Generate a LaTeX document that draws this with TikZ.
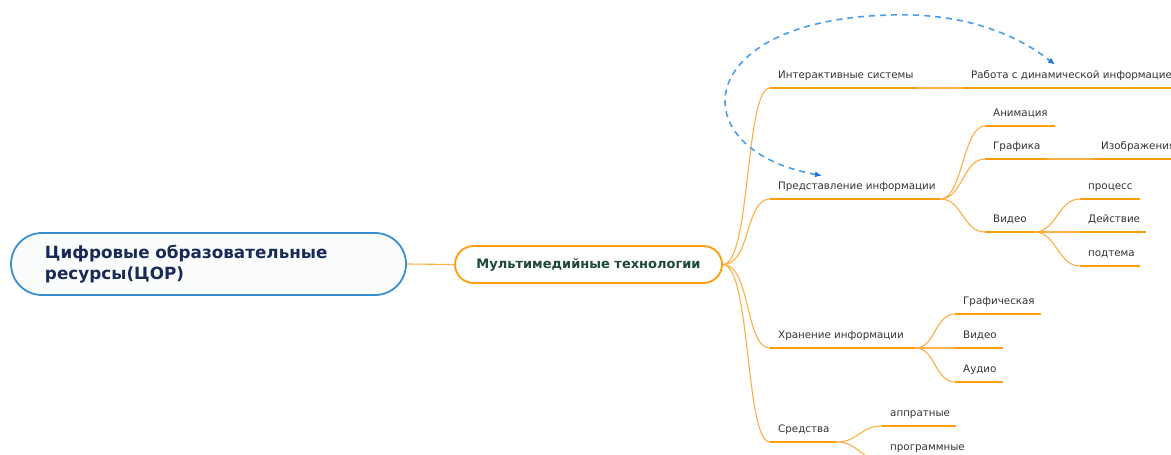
\documentclass[tikz,border=0pt]{standalone}
\usepackage{fontspec}
\setmainfont{DejaVu Sans}
\usetikzlibrary{arrows.meta}
\definecolor{rootblue}{HTML}{3A8FD3}
\definecolor{rootfill}{HTML}{FBFDFD}
\definecolor{roottext}{HTML}{1A2A58}
\definecolor{mainorange}{HTML}{FF9C0A}
\definecolor{maintext}{HTML}{1E4A3A}
\definecolor{linkorange}{HTML}{FDAE45}
\definecolor{topictext}{HTML}{333333}
\definecolor{relblue}{HTML}{4A9EEA}
\definecolor{tipblue}{HTML}{1F74E0}
\tikzset{
  root/.style={draw=rootblue, line width=1.8pt, fill=rootfill, rounded corners=31pt,
    minimum height=62pt, text width=327pt, inner xsep=34pt, align=left,
    text=roottext, font=\bfseries\fontsize{16.8}{21}\selectfont},
  maintopic/.style={draw=mainorange, line width=1.8pt, fill=white, rounded corners=18.5pt,
    minimum width=267pt, minimum height=37pt, text=maintext,
    font=\bfseries\fontsize{13}{15}\selectfont},
  topic/.style={anchor=south west, inner xsep=8pt, inner ysep=9pt,
    text height=8pt, text depth=0pt, text=topictext,
    font=\fontsize{10.3}{12}\selectfont,
    execute at begin node={\hbox to \dimexpr#1pt-16pt\relax\bgroup},
    execute at end node={\hss\egroup}},
  uline/.style={draw=mainorange, line width=2.8pt},
  link/.style={draw=linkorange, line width=1.1pt},
  rel/.style={draw=relblue, line width=1.6pt, dash pattern=on 6pt off 5pt,
    {Latex[length=7pt,width=6pt,color=tipblue]}-{Latex[length=7pt,width=6pt,color=tipblue]}},
}
\begin{document}
\begin{tikzpicture}[x=1pt,y=-1pt]
\useasboundingbox (0,0) rectangle (1171,455);

% central topics
\node[root] (root) at (208.5,264) {Цифровые образовательные\\ресурсы(ЦОР)};
\node[maintopic] (main) at (588.5,264.5) {Мультимедийные технологии};

% first level
\node[topic=147] (inter) at (770,88)  {Интерактивные системы};
\node[topic=170] (pred)  at (770,199) {Представление информации};
\node[topic=145] (hran)  at (770,348) {Хранение информации};
\node[topic=66]  (sred)  at (770,442) {Средства};

% second level
\node[topic=260] (rabota) at (963,88)  {Работа с динамической информацией};
\node[topic=70]  (anim)   at (985,126) {Анимация};
\node[topic=62]  (graf)   at (985,159) {Графика};
\node[topic=49]  (video)  at (985,232) {Видео};
\node[topic=86]  (grafch) at (955,314) {Графическая};
\node[topic=48]  (video2) at (955,348) {Видео};
\node[topic=48]  (audio)  at (955,382) {Аудио};
\node[topic=74]  (appr)   at (882,426) {аппратные};
\node[topic=92]  (progr)  at (882,460) {программные};

% third level
\node[topic=110] (izob)  at (1093,159) {Изображения};
\node[topic=60]  (proc)  at (1080,199) {процесс};
\node[topic=66]  (deist) at (1080,232) {Действие};
\node[topic=60]  (podt)  at (1080,266) {подтема};

% connectors
\draw[link] (root.east) -- (main.west);
\foreach \c in {inter,pred,hran,sred}
  \draw[link] (main.east) .. controls +(28,0) and +(-25,0) .. (\c.south west);
\draw[link] (inter.south east) -- (rabota.south west);
\foreach \c in {anim,graf,video}
  \draw[link] (pred.south east) .. controls +(22,0) and +(-22,0) .. (\c.south west);
\draw[link] (graf.south east) -- (izob.south west);
\foreach \c in {proc,deist,podt}
  \draw[link] (video.south east) .. controls +(22,0) and +(-22,0) .. (\c.south west);
\foreach \c in {grafch,video2,audio}
  \draw[link] (hran.south east) .. controls +(20,0) and +(-20,0) .. (\c.south west);
\foreach \c in {appr,progr}
  \draw[link] (sred.south east) .. controls +(22,0) and +(-22,0) .. (\c.south west);

% underlines of the topics
\foreach \n in {inter,pred,hran,sred,rabota,anim,graf,video,grafch,video2,audio,appr,progr,izob,proc,deist,podt}
  \draw[uline] (\n.south west) -- (\n.south east);

% relationship
\draw[rel] ([shift={(52,3)}]pred.north west)
  .. controls (680,150) and (690,20) .. (890,15)
  .. controls (980,12) and (1030,45) .. ([shift={(92,3)}]rabota.north west);
\end{tikzpicture}
\end{document}
